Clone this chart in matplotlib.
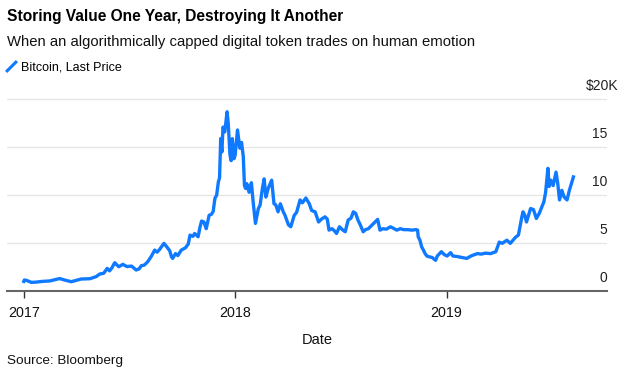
import pandas as pd
import matplotlib.pyplot as plt
from matplotlib.lines import Line2D

# ====== DATA (Bitcoin last price, thousands of USD) ======
START = pd.Timestamp("2017-01-01")
# days after START
days = [
    0, 1, 5, 13, 20, 32, 45, 55, 62, 70, 82, 90, 99, 114, 125, 131, 138, 144, 148, 152,
    157, 164, 171, 178, 186, 194, 199, 203, 208, 214, 220, 226, 230, 234, 242, 247, 252,
    255, 257, 262, 266, 272, 279, 284, 287, 292, 295, 301, 304, 307, 311, 315, 320, 324,
    327, 330, 333, 336, 338, 340, 342, 344, 347, 351, 353, 356, 358, 360, 363, 365, 369,
    373, 376, 379, 381, 383, 385, 389, 393, 396, 400, 403, 405, 408, 412, 415, 418, 422,
    428, 432, 435, 439, 443, 448, 451, 457, 461, 467, 471, 477, 481, 487, 493, 497, 503,
    509, 514, 520, 524, 527, 532, 536, 540, 545, 550, 555, 560, 565, 569, 573, 577, 581,
    586, 590, 595, 600, 604, 611, 615, 620, 626, 633, 638, 644, 650, 656, 663, 670, 677,
    680, 681, 684, 687, 690, 693, 696, 700, 705, 711, 714, 718, 721, 726, 731, 737, 741,
    748, 756, 765, 772, 783, 790, 797, 806, 815, 821, 826, 834, 840, 849, 854, 860, 862,
    865, 868, 875, 880, 885, 890, 898, 901, 905, 907, 910, 914, 919, 922, 925, 929, 933,
    938, 942, 949,
]
prices = [
    1.0, 1.15, 1.1, 0.9, 0.92, 1.0, 1.05, 1.2, 1.3, 1.15, 0.97, 1.1, 1.25, 1.28, 1.5, 1.77, 1.85, 2.36, 2.1, 2.4,
    2.95, 2.53, 2.78, 2.55, 2.6, 2.19, 2.3, 2.64, 2.7, 3.05, 3.6, 4.27, 4.05, 4.3, 4.97, 4.6, 4.2,
    3.57, 3.4, 3.9, 3.7, 4.27, 4.5, 4.9, 5.83, 5.7, 6.0, 5.66, 6.6, 7.3, 7.2, 6.5, 7.9, 8.0,
    8.3, 9.66, 10.0, 11.4, 11.8, 15.9, 14.5, 17.1, 16.6, 18.7, 17.5, 14.2, 13.6, 15.9, 13.8, 14.2, 16.8,
    14.9, 15.5, 14.0, 11.0, 10.7, 11.2, 10.3, 11.3, 9.3, 7.05, 8.0, 8.6, 8.96, 10.7, 11.7, 9.8, 10.7,
    11.56, 9.1, 9.0, 8.26, 9.1, 8.26, 7.9, 6.9, 6.7, 7.9, 8.2, 9.5, 9.2, 9.7, 9.1, 8.4, 8.26,
    7.2, 7.5, 7.74, 7.5, 6.35, 6.5, 6.3, 6.0, 6.7, 6.4, 6.18, 7.4, 7.6, 8.26, 8.1, 7.4, 6.9,
    6.18, 6.4, 6.5, 6.8, 7.05, 7.47, 6.35, 6.5, 6.45, 6.7, 6.55, 6.35, 6.5, 6.4, 6.4, 6.35, 6.4,
    6.35, 5.66, 5.3, 4.6, 4.27, 3.9, 3.65, 3.57, 3.5, 3.2, 3.65, 3.9, 4.1, 3.8, 3.65, 4.0, 3.65,
    3.6, 3.5, 3.4, 3.65, 3.9, 3.85, 3.95, 3.9, 4.1, 5.1, 4.97, 5.3, 4.97, 5.6, 5.83, 7.74, 8.26,
    7.9, 7.2, 8.6, 8.5, 7.57, 8.1, 9.3, 10.3, 12.8, 10.9, 11.56, 11.0, 12.4, 11.2, 9.5, 10.5, 9.8,
    9.5, 10.5, 11.9,
]
y_ticks = [0, 5, 10, 15, 20]
y_labels = ["0", "5", "10", "15", "$20K"]
x_ticks = ["2017-01-01", "2018-01-01", "2019-01-01"]
x_labels = ["2017", "2018", "2019"]

# ====== STYLE ======
plt.rcParams["font.family"] = ["Liberation Sans", "DejaVu Sans"]
BLUE = "#0f7aff"
W, H = 619, 376

fig = plt.figure(figsize=(W / 100, H / 100), dpi=100)
ax = fig.add_axes([7 / W, (H - 291) / H, 600 / W, 196.5 / H])

x = START + pd.to_timedelta(days, unit="D")
ax.plot(x, prices, color=BLUE, linewidth=2.4, solid_joinstyle="round")

ax.set_xlim(pd.Timestamp("2016-12-03"), pd.Timestamp("2019-10-05"))
ax.set_ylim(0, 20.5)

for v in y_ticks[1:]:
    ax.axhline(v, color="#e6e6e6", linewidth=1, zorder=0)

for v, lab in zip(y_ticks, y_labels):
    dx = 11 if lab.startswith("$") else 0
    ax.annotate(lab, xy=(1, v), xycoords=("axes fraction", "data"),
                xytext=(dx * 0.72, 6.5), textcoords="offset points",
                ha="right", va="baseline", fontsize=10, color="#222222")

ax.set_yticks([])
ax.set_xticks(pd.to_datetime(x_ticks))
ax.set_xticklabels(x_labels, fontsize=10.3, color="#111111")
ax.tick_params(axis="x", length=5, width=1, color="#333333", pad=6)
ax.set_xlabel("Date", fontsize=10.5, color="#111111")
ax.xaxis.set_label_coords(0.517, -0.215)

for s in ["top", "left", "right"]:
    ax.spines[s].set_visible(False)
ax.spines["bottom"].set_color("#666666")
ax.spines["bottom"].set_linewidth(1.5)

# ====== HEADER ======
fig.text(7 / W, 1 - 17 / H, "Storing Value One Year, Destroying It Another",
         fontsize=11.2, fontweight="bold", va="center", ha="left", color="#000000")
fig.text(7 / W, 1 - 42 / H, "When an algorithmically capped digital token trades on human emotion",
         fontsize=10.7, va="center", ha="left", color="#111111")
handle = Line2D([], [], color=BLUE, marker=(2, 0, -45), linestyle="none",
                markersize=11, markeredgewidth=2.2)
fig.legend([handle], ["Bitcoin, Last Price"], loc="center left",
           bbox_to_anchor=(0 / W, 1 - 67 / H), frameon=False, fontsize=9,
           handlelength=1.0, handletextpad=0.3, borderaxespad=0)
fig.text(7 / W, 1 - 361 / H, "Source: Bloomberg", fontsize=9.7, va="center",
         ha="left", color="#111111")

fig.savefig("out.png", dpi=100)
